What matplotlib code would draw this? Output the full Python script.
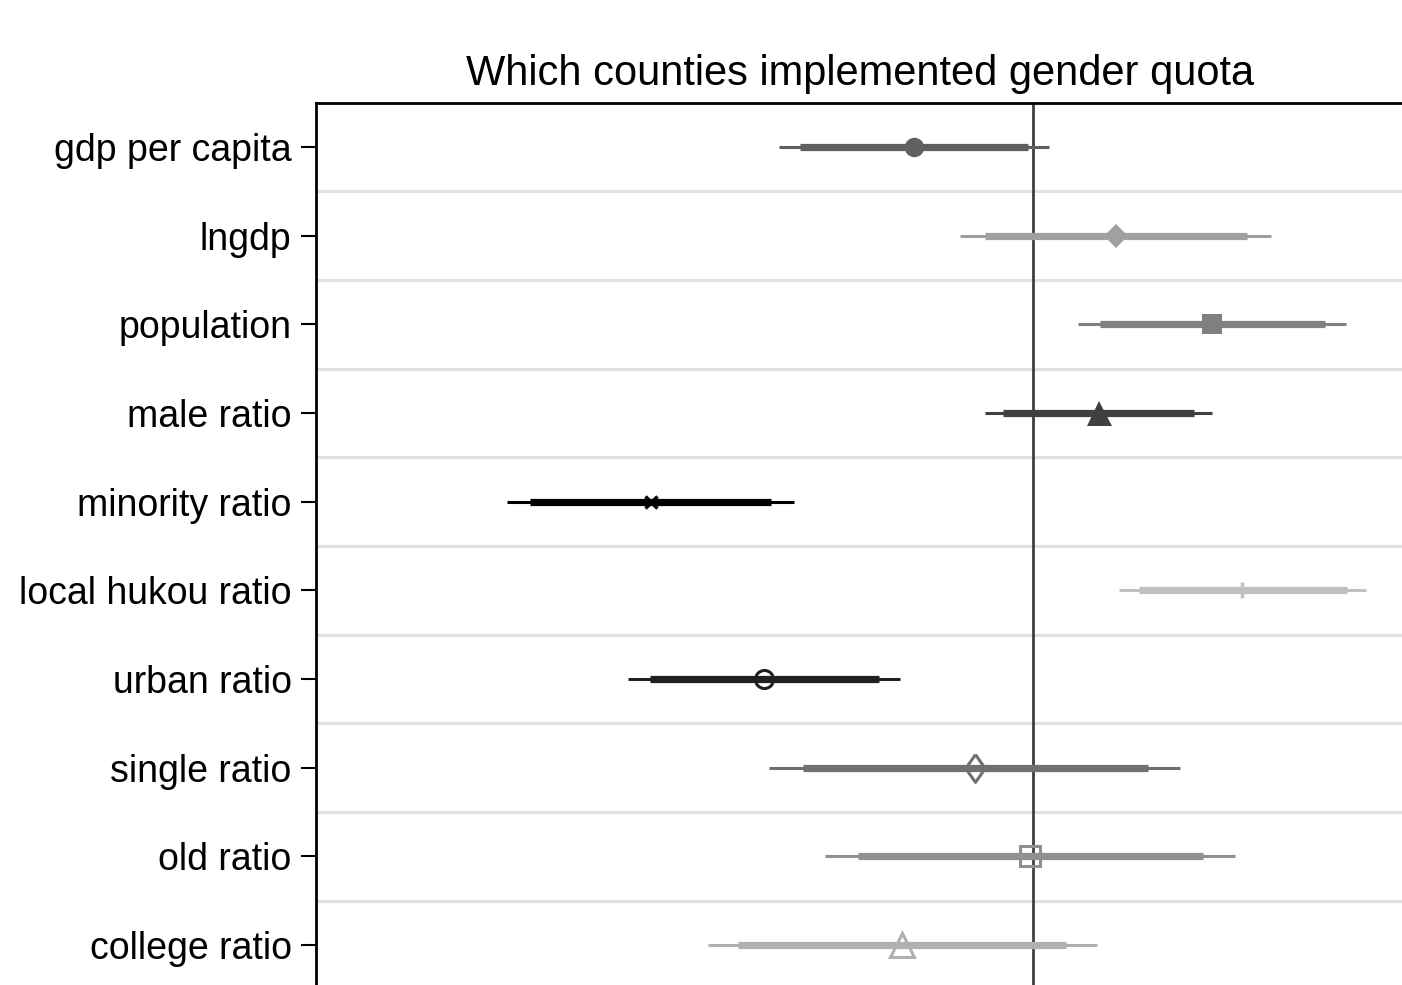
import matplotlib
matplotlib.use("Agg")
import matplotlib.pyplot as plt

plt.rcParams["font.family"] = ["Liberation Sans", "DejaVu Sans"]

# coefficient estimates with 90% (inner) and 95% (outer) intervals
labels = ["gdp per capita", "lngdp", "population", "male ratio", "minority ratio",
          "local hukou ratio", "urban ratio", "single ratio", "old ratio", "college ratio"]
coef = [-1.19, 0.83, 1.79, 0.66, -3.82, 2.09, -2.69, -0.58, -0.03, -1.31]
ci90_lo = [-2.33, -0.48, 0.67, -0.30, -5.03, 1.06, -3.83, -2.30, -1.75, -2.95]
ci90_hi = [-0.05, 2.14, 2.92, 1.61, -2.62, 3.14, -1.54, 1.15, 1.70, 0.33]
ci95_lo = [-2.54, -0.73, 0.45, -0.48, -5.26, 0.86, -4.05, -2.64, -2.08, -3.25]
ci95_hi = [0.16, 2.38, 3.13, 1.79, -2.39, 3.33, -1.33, 1.47, 2.02, 0.64]

colors = ["#606060", "#a0a0a0", "#808080", "#404040", "#000000",
          "#c0c0c0", "#202020", "#707070", "#909090", "#b0b0b0"]
tall_diamond = [(0, 1), (0.7, 0), (0, -1), (-0.7, 0), (0, 1)]
markers = ["o", "D", "s", "^", "x", "|", "o", tall_diamond, "s", "^"]
filled = [True, True, True, True, True, True, False, False, False, False]
msizes = [14, 12, 15, 18, 8, 12, 13, 20, 14, 17]

fig = plt.figure(figsize=(14.02, 9.85), dpi=100)
ax = fig.add_axes([316 / 1402, 0, 1 - 316 / 1402 + 0.01, (985 - 102.6) / 985])

ypos = list(range(1, len(labels) + 1))

# separators between rows
for y in ypos[:-1]:
    ax.axhline(y + 0.5, color="#e0e0e0", lw=2.2, zorder=0)

ax.axvline(0, color="#404040", lw=2.0, zorder=1)

for i, y in enumerate(ypos):
    c = colors[i]
    ax.plot([ci95_lo[i], ci95_hi[i]], [y, y], color=c, lw=2.2, solid_capstyle="butt", zorder=2)
    ax.plot([ci90_lo[i], ci90_hi[i]], [y, y], color=c, lw=5.2, solid_capstyle="butt", zorder=3)
    if filled[i]:
        ax.plot(coef[i], y, marker=markers[i], color=c, ms=msizes[i],
                mew=2.5 if markers[i] in ("x", "|") else 0, zorder=4)
    else:
        ax.plot(coef[i], y, marker=markers[i], mfc="none", mec=c, ms=msizes[i],
                mew=2.2, zorder=4)

ax.set_xlim((316 - 1033) / 100, (1416 - 1033) / 100)
ax.set_ylim(10.5 - 4.3 / 88.7, 0.5)

ax.set_yticks(ypos)
ax.set_yticklabels(labels, fontsize=27)
ax.tick_params(axis="y", length=11, width=1.5, pad=6.5, color="black")
ax.set_xticks([])

for side in ["right", "bottom"]:
    ax.spines[side].set_visible(False)
for side in ["left", "top"]:
    ax.spines[side].set_linewidth(2.0)
    ax.spines[side].set_color("black")

fig.text(860 / 1402, 1 - 74 / 985, "Which counties implemented gender quota",
         ha="center", va="center", fontsize=30)

fig.savefig("out.png", dpi=100, facecolor="white")
